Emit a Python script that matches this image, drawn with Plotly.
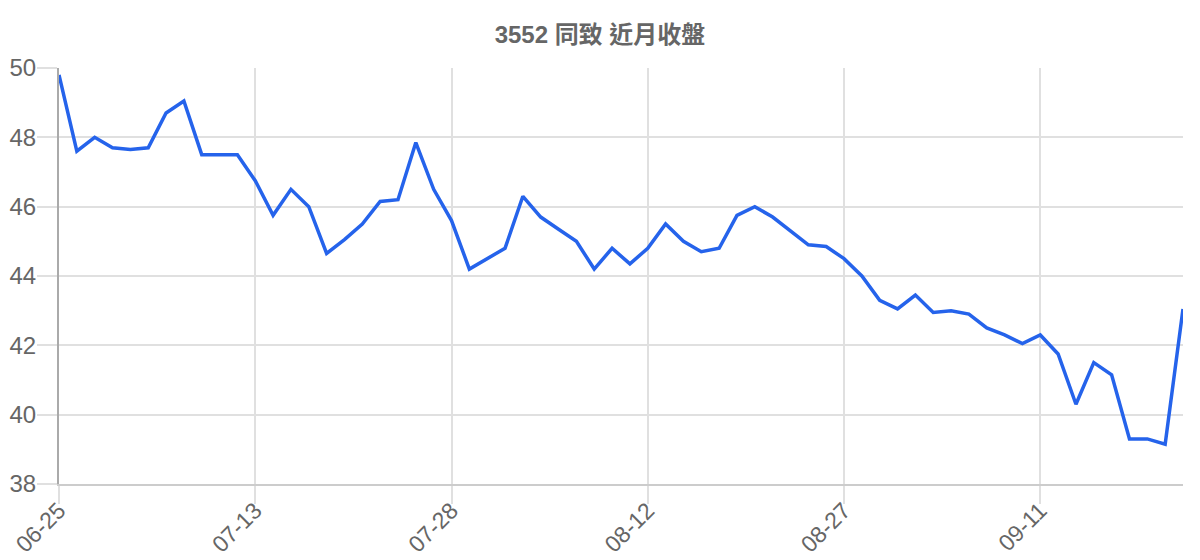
import plotly.graph_objects as go

# trading days (MM-DD) and closing prices
dates = [
    "06-25", "06-26", "06-27", "06-30", "07-01", "07-02", "07-03", "07-04",
    "07-07", "07-08", "07-10", "07-13", "07-14", "07-15", "07-16", "07-17",
    "07-18", "07-21", "07-22", "07-23", "07-24", "07-25", "07-28", "07-29",
    "07-30", "07-31", "08-01", "08-04", "08-05", "08-06", "08-07", "08-08",
    "08-11", "08-12", "08-13", "08-14", "08-15", "08-18", "08-19", "08-20",
    "08-21", "08-22", "08-25", "08-26", "08-27", "08-28", "08-29", "09-01",
    "09-02", "09-03", "09-04", "09-05", "09-08", "09-09", "09-10", "09-11",
    "09-12", "09-15", "09-16", "09-17", "09-18", "09-19", "09-22", "09-23",
]
close = [
    49.8, 47.6, 48.0, 47.7, 47.65, 47.7, 48.7, 49.05,
    47.5, 47.5, 47.5, 46.75, 45.75, 46.5, 46.0, 44.65,
    45.05, 45.5, 46.15, 46.2, 47.85, 46.5, 45.6, 44.2,
    44.5, 44.8, 46.3, 45.7, 45.35, 45.0, 44.2, 44.8,
    44.35, 44.8, 45.5, 45.0, 44.7, 44.8, 45.75, 46.0,
    45.7, 45.3, 44.9, 44.85, 44.5, 44.0, 43.3, 43.05,
    43.45, 42.95, 43.0, 42.9, 42.5, 42.3, 42.05, 42.3,
    41.75, 40.3, 41.5, 41.15, 39.3, 39.3, 39.15, 43.05,
]
tick_labels = ["06-25", "07-13", "07-28", "08-12", "08-27", "09-11"]
y_ticks = [38, 40, 42, 44, 46, 48, 50]

fig = go.Figure(go.Scatter(
    x=dates, y=close, mode="lines",
    line=dict(color="#2563eb", width=3.5),
    hoverinfo="x+y",
))

fig.update_layout(
    width=1200, height=560,
    margin=dict(l=59, r=17, t=68, b=76),
    plot_bgcolor="white", paper_bgcolor="white",
    font=dict(family="Liberation Sans, Arial, sans-serif", color="#666666"),
    title=dict(text="<b>3552 同致 近月收盤</b>", x=0.5, xanchor="center",
               y=0.9375, yanchor="middle",
               font=dict(size=24, color="#666666",
                         family="Liberation Sans, Noto Sans CJK TC, sans-serif")),
    showlegend=False,
)
fig.update_xaxes(
    type="category", range=[0, len(dates) - 1], automargin=False,
    tickmode="array", tickvals=tick_labels, ticktext=tick_labels,
    tickangle=-45, tickfont=dict(size=23, color="#666666"),
    ticklabelstandoff=-16,
    showgrid=True, gridcolor="#e0e0e0", gridwidth=1.5,
    ticks="outside", ticklen=18, tickcolor="#e0e0e0", tickwidth=1.5,
    showline=True, linecolor="#cccccc", linewidth=2,
)
fig.update_yaxes(
    range=[38, 50], tickvals=y_ticks, automargin=False,
    tickfont=dict(size=24, color="#666666"),
    ticklabelstandoff=-4,
    showgrid=True, gridcolor="#e0e0e0", gridwidth=1.5,
    ticks="outside", ticklen=20, tickcolor="#e0e0e0", tickwidth=1.5,
    showline=True, linecolor="#aaaaaa", linewidth=2, zeroline=False,
)

# drop the default page margin so the figure fills the window exactly
fig.write_html("out.html", config={"displayModeBar": False},
               post_script="document.body.style.margin = '0';")
